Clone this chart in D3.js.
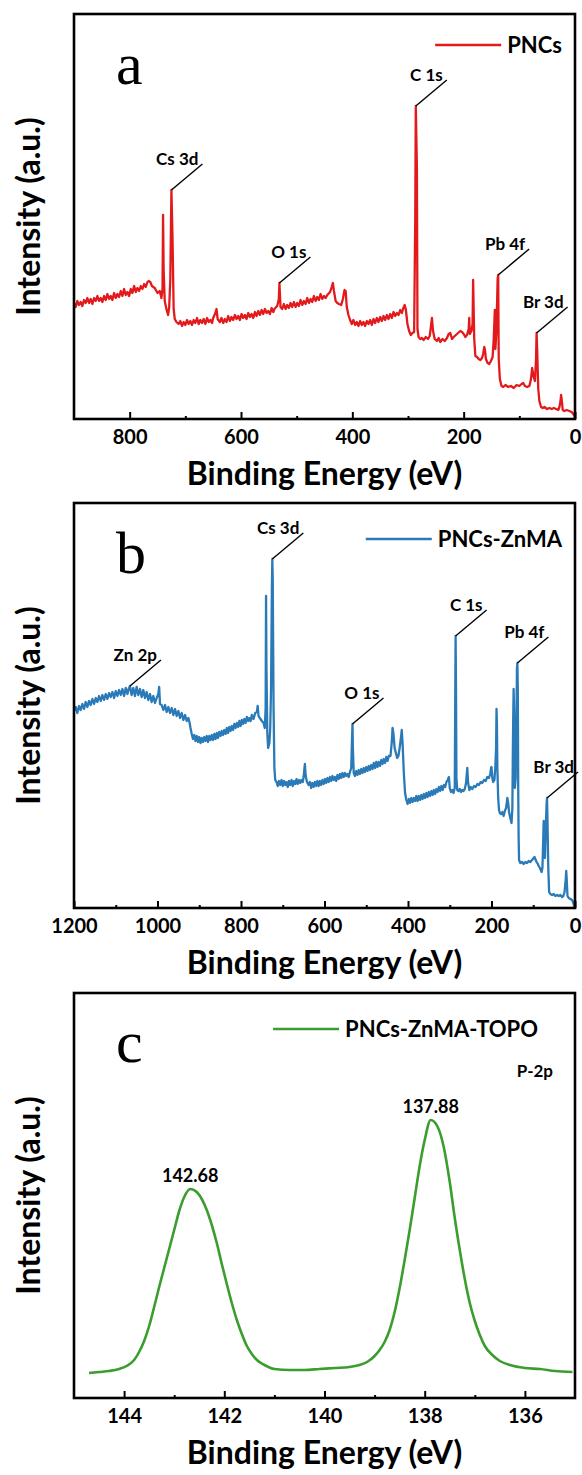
<html>

<head>
    <script src="https://cdn.jsdelivr.net/npm/d3@7"></script>
    <style>
        body { margin: 0; background: #fff; }
        text { font-family: Lato, "Open Sans", sans-serif; font-weight: bold; fill: #000; }
        .tick line { stroke: #000; stroke-width: 2; }
        .domain { display: none; }
    </style>
</head>

<body>
    <svg width="582" height="1475" id="plot"></svg>
    <script>
        // ---- panel a : PNCs survey (binding energy eV, intensity a.u.)
        const surveyPNCs = [
            [900, 116], [897, 112], [894, 118], [891, 114], [888, 117], [885, 113], [882, 119], [879, 116], [876, 121],
            [873, 116], [870, 120], [867, 115], [864, 121], [861, 118], [858, 123], [855, 118], [852, 121], [849, 117],
            [846, 123], [843, 119], [840, 125], [837, 120], [834, 123], [831, 119], [828, 126], [825, 121], [822, 125],
            [819, 122], [816, 128], [813, 123], [810, 130], [807, 124], [804, 127], [801, 123], [798, 130], [795, 126],
            [792, 133], [789, 127], [786, 131], [783, 128], [780, 133], [777, 130], [774, 135], [771, 132], [768, 137],
            [766, 138], [763, 137], [760, 133], [755, 131], [750, 126], [746, 128], [743, 121], [741, 130], [740, 204],
            [739, 150], [737, 118], [734, 110], [731, 104], [729, 112], [727, 140], [725, 229], [723, 180], [721, 110],
            [719, 100], [716, 97], [712, 95], [709, 98], [706, 93], [703, 97], [700, 94], [697, 99], [694, 95], [691, 98],
            [688, 94], [685, 99], [682, 96], [679, 101], [676, 95], [673, 99], [670, 96], [667, 100], [664, 95],
            [661, 101], [658, 97], [655, 99], [652, 96], [650, 101], [646, 106], [644, 110], [642, 100], [638, 97],
            [635, 101], [632, 96], [629, 100], [626, 97], [623, 103], [620, 98], [617, 102], [614, 99], [611, 104],
            [608, 100], [605, 103], [602, 99], [599, 105], [596, 101], [593, 104], [590, 100], [587, 106], [584, 102],
            [581, 105], [578, 101], [575, 107], [572, 103], [569, 108], [566, 104], [563, 109], [560, 105], [557, 110],
            [554, 106], [551, 108], [548, 105], [545, 111], [542, 107], [540, 110], [535, 113], [532, 120], [531, 136],
            [529, 112], [526, 110], [523, 115], [520, 110], [517, 114], [514, 111], [511, 116], [508, 112], [505, 117],
            [502, 112], [499, 116], [496, 113], [493, 119], [490, 114], [487, 118], [484, 115], [481, 121], [478, 116],
            [475, 120], [472, 117], [469, 123], [466, 118], [463, 122], [460, 119], [457, 125], [454, 120], [451, 123],
            [448, 121], [445, 124], [440, 127], [437, 132], [435, 136], [433, 128], [430, 118], [427, 116], [424, 115],
            [420, 114], [417, 120], [414, 129], [412, 128], [410, 112], [407, 104], [404, 99], [401, 95], [398, 99],
            [395, 94], [392, 97], [389, 93], [386, 98], [383, 94], [380, 97], [377, 93], [374, 98], [371, 95], [368, 99],
            [365, 94], [362, 100], [359, 96], [356, 101], [353, 97], [350, 102], [347, 98], [344, 103], [341, 99],
            [338, 104], [335, 100], [332, 105], [329, 101], [326, 107], [323, 103], [320, 106], [317, 104], [314, 109],
            [311, 106], [309, 110], [306, 114], [304, 110], [301, 95], [298, 88], [295, 84], [292, 86], [289, 87],
            [287, 200], [286, 313], [284, 250], [283, 90], [281, 82], [278, 80], [275, 81], [272, 79], [268, 82], [264, 80],
            [261, 83], [258, 96], [257, 101], [255, 88], [252, 80], [248, 78], [245, 81], [242, 77], [238, 80], [234, 78],
            [230, 81], [227, 85], [224, 86], [221, 80], [218, 82], [214, 84], [210, 86], [206, 88], [203, 87], [200, 85],
            [197, 82], [194, 84], [191, 90], [190, 101], [189, 85], [186, 88], [184, 95], [183, 139], [181, 80], [179, 63],
            [176, 62], [173, 60], [170, 59], [167, 61], [165, 65], [163, 72], [162, 70], [160, 60], [157, 56], [154, 55],
            [151, 58], [148, 62], [146, 80], [144, 109], [143, 70], [141, 90], [139, 140], [138, 144], [137, 60], [135, 40],
            [132, 33], [129, 32], [125, 34], [120, 32], [115, 33], [110, 31], [105, 34], [100, 33], [96, 35], [93, 36],
            [90, 33], [86, 32], [82, 33], [79, 40], [77, 51], [75, 44], [72, 38], [70, 60], [69, 86], [68, 70], [66, 30],
            [64, 18], [61, 12], [58, 11], [55, 12], [50, 10], [46, 11], [42, 10], [38, 11], [34, 10], [30, 9], [28, 12],
            [26, 18], [25, 24], [24, 20], [22, 9], [19, 8], [15, 9], [10, 8], [6, 7], [3, 5], [1, 3], [0, 2]
        ];
        const peaksPNCs = [["Cs 3d", 725], ["O 1s", 531], ["C 1s", 286], ["Pb 4f", 138], ["Br 3d", 69]];
        const ticksSurveyA = [800, 600, 400, 200, 0];
        const minorSurveyA = [700, 500, 300, 100];

        // ---- panel b : PNCs-ZnMA survey
        const surveyZnMA = [
            [1200, 197], [1196, 201], [1192, 195], [1188, 202], [1184, 198], [1180, 204], [1176, 199], [1172, 206],
            [1168, 201], [1164, 207], [1160, 203], [1156, 209], [1152, 204], [1148, 210], [1144, 206], [1140, 212],
            [1136, 207], [1132, 213], [1128, 208], [1124, 214], [1120, 209], [1116, 215], [1112, 211], [1108, 216],
            [1104, 210], [1100, 217], [1096, 212], [1092, 218], [1088, 213], [1084, 219], [1080, 212], [1076, 220],
            [1072, 214], [1069, 219], [1066, 222], [1062, 213], [1058, 220], [1054, 212], [1050, 221], [1046, 213],
            [1042, 219], [1038, 211], [1034, 218], [1030, 210], [1026, 216], [1022, 208], [1018, 214], [1014, 206],
            [1010, 212], [1006, 205], [1002, 210], [998, 214], [996, 221], [994, 204], [990, 203], [986, 198], [982, 203],
            [978, 196], [974, 201], [970, 195], [966, 200], [962, 193], [958, 199], [954, 192], [950, 197], [946, 190],
            [942, 195], [938, 188], [934, 193], [930, 187], [926, 190], [923, 185], [921, 180], [918, 174], [915, 169],
            [912, 173], [909, 167], [906, 172], [903, 166], [900, 171], [897, 165], [894, 170], [891, 166], [888, 171],
            [885, 167], [882, 172], [879, 166], [876, 172], [873, 168], [870, 173], [867, 168], [864, 174], [861, 169],
            [858, 175], [855, 170], [852, 176], [849, 172], [846, 177], [843, 173], [840, 178], [837, 174], [834, 180],
            [831, 175], [828, 181], [825, 177], [822, 182], [819, 178], [816, 184], [813, 180], [810, 185], [807, 181],
            [804, 187], [801, 182], [798, 188], [795, 184], [792, 189], [789, 185], [786, 191], [783, 187], [780, 190],
            [777, 187], [774, 193], [770, 189], [766, 195], [762, 196], [760, 202], [758, 192], [755, 190], [750, 187],
            [746, 185], [743, 180], [741, 200], [740, 312], [739, 240], [737, 175], [735, 160], [732, 165], [730, 180],
            [728, 220], [726, 320], [725, 349], [724, 330], [722, 200], [720, 140], [718, 128], [715, 126], [712, 122],
            [709, 127], [706, 123], [703, 128], [700, 122], [697, 127], [694, 123], [691, 126], [688, 121], [685, 127],
            [682, 123], [679, 128], [676, 122], [673, 127], [670, 124], [667, 129], [664, 124], [661, 128], [658, 125],
            [655, 128], [652, 126], [650, 131], [648, 140], [647, 144], [645, 132], [642, 126], [638, 123], [635, 126],
            [632, 120], [629, 125], [626, 121], [623, 126], [620, 122], [617, 127], [614, 122], [611, 127], [608, 123],
            [605, 128], [602, 124], [599, 129], [596, 125], [593, 130], [590, 126], [587, 131], [584, 127], [581, 132],
            [578, 128], [575, 131], [572, 127], [569, 133], [566, 129], [563, 134], [560, 130], [557, 135], [554, 131],
            [551, 135], [548, 132], [545, 134], [542, 131], [539, 136], [536, 140], [534, 170], [533, 184], [532, 160],
            [530, 135], [527, 132], [524, 137], [521, 133], [518, 138], [515, 134], [512, 139], [509, 135], [506, 140],
            [503, 136], [500, 141], [497, 137], [494, 142], [491, 138], [488, 143], [485, 139], [482, 145], [479, 140],
            [476, 146], [473, 141], [470, 146], [467, 142], [464, 148], [461, 144], [458, 149], [455, 145], [452, 151],
            [449, 147], [446, 152], [442, 152], [439, 165], [437, 180], [435, 175], [432, 160], [429, 155], [426, 150],
            [423, 152], [420, 160], [417, 170], [415, 178], [413, 165], [410, 135], [407, 115], [404, 108], [401, 104],
            [398, 109], [395, 105], [392, 110], [389, 106], [386, 110], [383, 107], [380, 112], [377, 107], [374, 112],
            [371, 108], [368, 113], [365, 109], [362, 114], [359, 110], [356, 115], [353, 111], [350, 116], [347, 112],
            [344, 117], [341, 113], [338, 118], [335, 114], [332, 119], [329, 116], [326, 121], [323, 117], [320, 122],
            [317, 118], [314, 123], [311, 121], [308, 126], [305, 128], [302, 131], [300, 120], [297, 116], [294, 118],
            [291, 115], [288, 120], [287, 200], [286, 272], [285, 220], [284, 130], [282, 118], [279, 117], [276, 119],
            [273, 116], [270, 118], [267, 117], [264, 119], [261, 125], [259, 135], [258, 140], [256, 125], [253, 118],
            [250, 121], [246, 119], [242, 122], [238, 121], [234, 124], [230, 123], [226, 126], [222, 125], [218, 128],
            [214, 127], [210, 131], [206, 130], [203, 134], [201, 140], [200, 141], [198, 130], [196, 126], [193, 128],
            [191, 140], [189, 160], [188, 199], [187, 185], [186, 140], [184, 110], [182, 98], [180, 95], [177, 94],
            [174, 96], [171, 92], [168, 97], [165, 100], [162, 110], [160, 105], [158, 96], [155, 90], [152, 85],
            [150, 100], [149, 150], [148, 190], [147, 219], [146, 200], [144, 120], [142, 130], [140, 200], [139, 240],
            [138, 245], [137, 220], [136, 120], [135, 70], [134, 48], [131, 45], [127, 46], [123, 44], [119, 46],
            [115, 45], [111, 47], [107, 46], [103, 48], [99, 50], [97, 51], [95, 49], [92, 46], [89, 44], [87, 42],
            [84, 40], [82, 38], [80, 36], [78, 40], [76, 70], [75, 87], [74, 60], [72, 50], [70, 80], [68, 105], [67, 110],
            [66, 90], [64, 40], [62, 16], [59, 14], [55, 13], [51, 14], [47, 12], [43, 13], [39, 12], [35, 13], [31, 11],
            [28, 12], [25, 16], [22, 30], [21, 37], [20, 30], [18, 12], [15, 10], [11, 9], [7, 8], [4, 5], [2, 2], [0, 0]
        ];
        const peaksZnMA = [["Zn 2p", 1066], ["Cs 3d", 725], ["O 1s", 533], ["C 1s", 286], ["Pb 4f", 138], ["Br 3d", 67]];
        const ticksSurveyB = [1200, 1000, 800, 600, 400, 200, 0];
        const minorSurveyB = [1100, 900, 700, 500, 300, 100];

        // ---- panel c : PNCs-ZnMA-TOPO, P 2p region
        const p2pTOPO = [
            [144.7, 25], [144.5, 26], [144.3, 27], [144.1, 29], [143.95, 32], [143.8, 38], [143.7, 46], [143.6, 57],
            [143.5, 72], [143.4, 91], [143.3, 111], [143.2, 130], [143.1, 149], [143.0, 168], [142.9, 187], [142.8, 201],
            [142.68, 209], [142.55, 206], [142.45, 199], [142.35, 188], [142.25, 173], [142.15, 155], [142.05, 134],
            [141.95, 114], [141.85, 95], [141.75, 78], [141.65, 64], [141.55, 52], [141.45, 44], [141.35, 38],
            [141.2, 33], [141.0, 29], [140.7, 28], [140.4, 28], [140.1, 29], [139.8, 30], [139.5, 31], [139.3, 33],
            [139.15, 36], [139.0, 42], [138.9, 48], [138.8, 56], [138.7, 68], [138.6, 86], [138.5, 110], [138.4, 138],
            [138.3, 168], [138.2, 200], [138.1, 232], [138.0, 258], [137.88, 278], [137.75, 272], [137.62, 251],
            [137.5, 216], [137.4, 180], [137.3, 148], [137.2, 119], [137.1, 95], [137.0, 77], [136.9, 63], [136.8, 52],
            [136.65, 43], [136.5, 37], [136.3, 33], [136.0, 30], [135.7, 29], [135.4, 27], [135.05, 26]
        ];
        const peakValuesTOPO = [142.68, 137.88];
        const ticksP2p = [144, 142, 140, 138, 136];
        const minorP2p = [143, 141, 139, 137];

        const panels = [
            { id: "a", data: surveyPNCs, name: "PNCs", color: "#e31a1c", xDomain: [900, 0], ticks: ticksSurveyA, minor: minorSurveyA, peaks: peaksPNCs, top: 14, legendEnd: 562 },
            { id: "b", data: surveyZnMA, name: "PNCs-ZnMA", color: "#2a7ab8", xDomain: [1200, 0], ticks: ticksSurveyB, minor: minorSurveyB, peaks: peaksZnMA, top: 503, legendEnd: 562 },
            { id: "c", data: p2pTOPO, name: "PNCs-ZnMA-TOPO", color: "#3a9d2e", xDomain: [145, 135], ticks: ticksP2p, minor: minorP2p, peaks: [], top: 993, legendEnd: 538 }
        ];

        const svg = d3.select("#plot");
        const margin = { left: 74, right: 7 };
        const plotHeight = 405;
        const width = +svg.attr("width");

        panels.forEach(p => {
            const bottom = p.top + plotHeight;
            const x = d3.scaleLinear().domain(p.xDomain).range([margin.left, width - margin.right]);
            const y = d3.scaleLinear().domain([0, 405]).range([bottom, p.top]);
            const g = svg.append("g").attr("class", "panel-" + p.id);

            g.append("clipPath").attr("id", "clip-" + p.id)
                .append("rect").attr("x", margin.left).attr("y", p.top)
                .attr("width", width - margin.right - margin.left).attr("height", plotHeight);

            // spectrum
            const line = d3.line().x(d => x(d[0])).y(d => y(d[1]));
            if (p.id == "c") line.curve(d3.curveMonotoneX);
            g.append("path").datum(p.data)
                .attr("clip-path", `url(#clip-${p.id})`)
                .attr("d", line)
                .attr("fill", "none")
                .attr("stroke", p.color)
                .attr("stroke-width", p.id == "c" ? 2.6 : 2.3)
                .attr("stroke-linejoin", "round");

            // axes (ticks inside)
            const xAxis = d3.axisBottom(x).tickValues(p.ticks).tickSize(-7).tickPadding(11).tickFormat(d3.format("d"));
            g.append("g").attr("transform", `translate(0, ${bottom})`).call(xAxis)
                .selectAll("text").style("font-size", "20px");
            g.append("g").attr("transform", `translate(0, ${bottom})`)
                .call(d3.axisBottom(x).tickValues(p.minor).tickSize(-3).tickFormat(""));

            // frame
            g.append("rect").attr("x", margin.left).attr("y", p.top)
                .attr("width", width - margin.right - margin.left).attr("height", plotHeight)
                .attr("fill", "none").attr("stroke", "#000").attr("stroke-width", 2.6);

            // axis titles
            g.append("text").attr("x", (margin.left + width - margin.right) / 2).attr("y", bottom + 66)
                .attr("text-anchor", "middle").style("font-size", "32px").text("Binding Energy (eV)");
            g.append("text").attr("transform", `translate(40, ${p.top + plotHeight / 2}) rotate(-90)`)
                .attr("text-anchor", "middle").style("font-size", "32px").text("Intensity (a.u.)");

            // panel letter
            g.append("text").attr("x", 116).attr("y", p.top + (p.id == "c" ? 69 : 70))
                .style("font-family", "'Liberation Serif', 'DejaVu Serif', serif").style("font-weight", "normal")
                .style("font-size", "60px").text(p.id);

            // legend
            const legendY = p.top + (p.id == "a" ? 31 : 36);
            const legendText = g.append("text").attr("x", p.legendEnd).attr("y", legendY).attr("dy", "0.35em")
                .attr("text-anchor", "end").style("font-size", "22px").text(p.name);
            const textStart = p.legendEnd - legendText.node().getComputedTextLength();
            g.append("line").attr("x1", textStart - 72).attr("x2", textStart - 6)
                .attr("y1", legendY).attr("y2", legendY)
                .attr("stroke", p.color).attr("stroke-width", 2.6);

            // peak annotations with leader lines
            p.peaks.forEach(([label, energy]) => {
                const pt = p.data.find(d => d[0] == energy);
                const x1 = x(pt[0]), y1 = y(pt[1]);
                const x2 = x1 + 31, y2 = y1 - 26;
                g.append("line").attr("x1", x1).attr("y1", y1).attr("x2", x2).attr("y2", y2)
                    .attr("stroke", "#000").attr("stroke-width", 1.4);
                g.append("text").attr("x", x2 - 4).attr("y", y2 + 1)
                    .attr("text-anchor", "end").style("font-size", "17px").text(label);
            });

            // P 2p peak positions
            if (p.id == "c") {
                peakValuesTOPO.forEach(v => {
                    const pt = p.data.find(d => d[0] == v);
                    g.append("text").attr("x", x(pt[0])).attr("y", y(pt[1]) - 7)
                        .attr("text-anchor", "middle").style("font-size", "18px").text(d3.format(".2f")(v));
                });
                g.append("text").attr("x", 553).attr("y", p.top + 84)
                    .attr("text-anchor", "end").style("font-size", "17px").text("P-2p");
            }
        });
    </script>
</body>

</html>
